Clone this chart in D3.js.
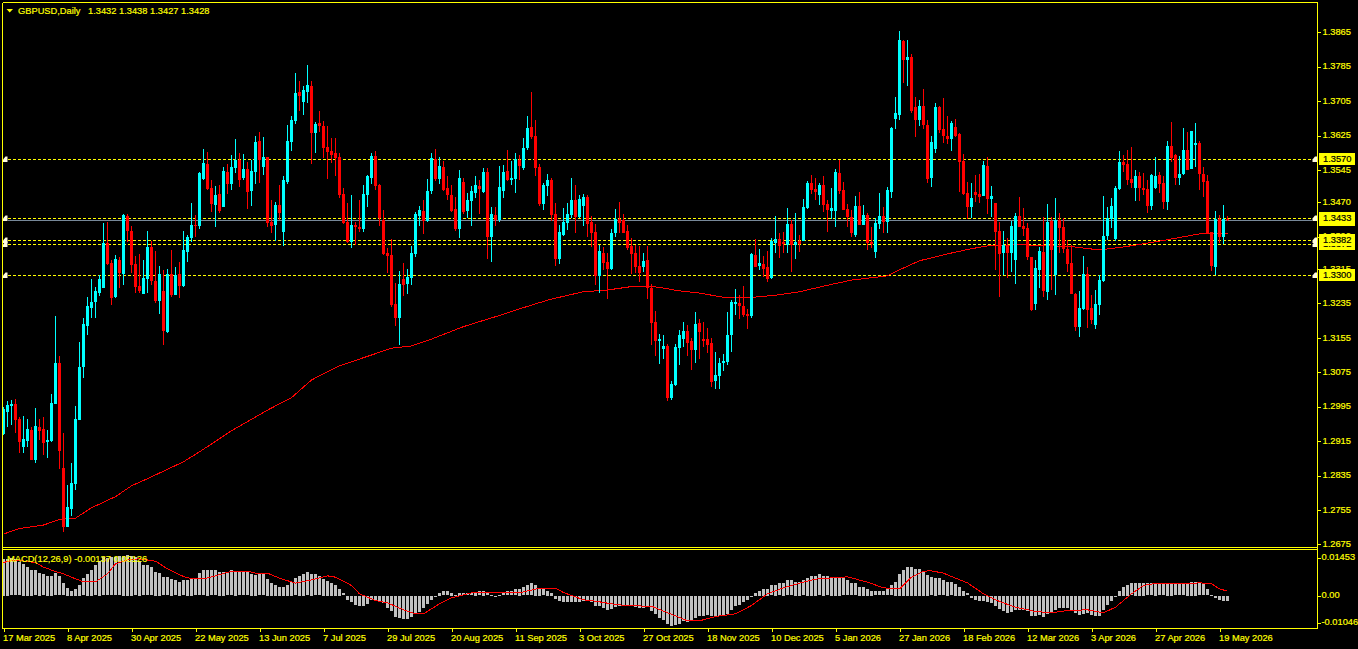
<!DOCTYPE html>
<html><head><meta charset="utf-8"><title>GBPUSD,Daily</title>
<script src="https://cdn.jsdelivr.net/npm/d3@7/dist/d3.min.js"></script>
<style>html,body{margin:0;padding:0;background:#000;overflow:hidden}svg{display:block}text{font-family:"Liberation Sans",Arial,sans-serif;font-size:9.3px;stroke-width:.2px}</style>
</head><body><svg id="c" width="1358" height="649"></svg>
<script>
// Prices in units of 0.0001
const highs=[12995,13009,13011,13013,12971,12973,12966,12948,12992,12966,
12971,12941,13025,13206,13113,12934,12813,12864,12997,13145,
13201,13250,13292,13273,13301,13422,13424,13336,13347,13343,
13443,13443,13415,13345,13350,13336,13403,13380,13357,13322,
13313,13315,13359,13320,13331,13403,13394,13468,13440,13540,
13594,13587,13522,13508,13510,13552,13559,13580,13617,13585,
13582,13564,13568,13624,13633,13622,13575,13475,13471,13510,
13531,13650,13670,13770,13752,13740,13789,13752,13656,13682,
13659,13647,13619,13619,13585,13503,13468,13487,13424,13475,
13510,13533,13585,13589,13513,13452,13364,13385,13282,13310,
13329,13315,13368,13447,13461,13475,13524,13585,13594,13575,
13566,13531,13510,13482,13545,13526,13492,13508,13531,13522,
13550,13550,13459,13459,13554,13557,13592,13566,13585,13580,
13619,13670,13726,13661,13559,13515,13536,13526,13468,13417,
13457,13468,13526,13510,13487,13489,13487,13438,13420,13371,
13366,13352,13408,13454,13471,13443,13417,13387,13371,13368,
13352,13368,13280,13217,13164,13162,13141,13055,13141,13173,
13192,13185,13155,13215,13199,13192,13178,13155,13122,13108,
13117,13215,13243,13269,13255,13276,13222,13352,13385,13361,
13345,13357,13387,13438,13399,13401,13457,13429,13445,13394,
13478,13519,13533,13526,13515,13531,13475,13503,13547,13568,
13517,13466,13452,13485,13494,13464,13445,13413,13433,13492,
13459,13506,13645,13715,13868,13847,13847,13815,13715,13708,
13733,13661,13624,13701,13694,13712,13670,13659,13664,13631,
13582,13517,13515,13533,13536,13566,13575,13508,13468,13424,
13403,13387,13427,13445,13482,13457,13422,13343,13336,13366,
13436,13466,13436,13480,13445,13433,13382,13371,13259,13264,
13345,13320,13255,13266,13301,13485,13459,13480,13508,13589,
13580,13592,13598,13545,13540,13538,13522,13536,13575,13540,
13531,13612,13657,13582,13578,13643,13633,13636,13654,13612,
13552,13533,13401,13450,13440,13464,13438];
const lows=[12929,12948,12952,12934,12888,12888,12902,12871,12864,12918,
12883,12876,12913,13002,12850,12704,12716,12741,12802,12964,
13062,13162,13201,13201,13252,13271,13324,13231,13248,13271,
13278,13378,13306,13259,13259,13257,13259,13278,13236,13210,
13138,13166,13250,13255,13248,13273,13331,13378,13389,13408,
13522,13499,13447,13413,13445,13459,13489,13499,13538,13506,
13522,13454,13461,13513,13515,13533,13413,13399,13380,13429,
13368,13513,13589,13652,13682,13673,13701,13559,13585,13633,
13573,13524,13561,13531,13480,13420,13375,13364,13371,13401,
13401,13459,13513,13499,13415,13347,13306,13227,13183,13138,
13252,13257,13278,13343,13415,13396,13424,13489,13519,13513,
13496,13475,13447,13403,13387,13443,13433,13415,13480,13443,
13492,13338,13331,13415,13424,13480,13519,13510,13492,13522,
13545,13592,13617,13531,13461,13452,13485,13427,13322,13327,
13392,13406,13433,13399,13433,13415,13389,13366,13278,13259,
13313,13245,13313,13389,13399,13399,13359,13303,13306,13285,
13308,13245,13138,13113,13094,13106,13008,13011,13043,13092,
13134,13113,13080,13097,13106,13134,13120,13041,13036,13036,
13078,13092,13122,13208,13199,13203,13176,13201,13320,13313,
13296,13285,13292,13352,13341,13352,13352,13308,13338,13354,
13380,13454,13489,13475,13464,13447,13401,13431,13413,13489,
13452,13413,13389,13389,13417,13417,13359,13364,13341,13408,
13399,13399,13480,13640,13661,13747,13740,13677,13622,13647,
13640,13515,13506,13585,13631,13608,13605,13589,13622,13494,
13487,13431,13433,13471,13468,13485,13443,13436,13313,13250,
13301,13294,13308,13280,13413,13392,13336,13217,13220,13271,
13250,13243,13266,13255,13352,13352,13308,13257,13171,13157,
13220,13178,13187,13176,13208,13285,13382,13410,13380,13499,
13540,13510,13503,13473,13473,13487,13445,13452,13501,13492,
13454,13452,13564,13510,13510,13533,13545,13547,13552,13499,
13482,13399,13310,13301,13375,13373,13427];
const opens=[12932,12983,12997,13002,12966,12902,12916,12941,12871,12948,
12943,12913,12916,13002,13097,12853,12716,12757,12816,12964,
13087,13183,13224,13238,13259,13271,13375,13329,13250,13336,
13303,13438,13403,13327,13275,13257,13292,13366,13287,13241,
13264,13169,13303,13255,13303,13275,13354,13387,13417,13415,
13524,13559,13503,13464,13489,13459,13540,13513,13550,13568,
13526,13547,13496,13540,13612,13552,13575,13424,13417,13464,
13401,13517,13610,13659,13726,13703,13726,13740,13631,13654,
13647,13598,13589,13585,13575,13489,13424,13378,13417,13413,
13408,13487,13526,13578,13510,13429,13352,13347,13234,13201,
13292,13280,13294,13350,13438,13450,13427,13496,13571,13524,
13552,13503,13487,13454,13408,13517,13450,13473,13492,13508,
13494,13540,13389,13440,13429,13496,13543,13522,13524,13568,
13550,13596,13645,13624,13552,13466,13508,13522,13443,13338,
13394,13422,13440,13475,13436,13461,13482,13424,13401,13299,
13352,13331,13315,13399,13431,13429,13403,13368,13352,13322,
13320,13336,13271,13192,13148,13129,13136,13015,13045,13131,
13152,13171,13148,13127,13190,13152,13152,13143,13055,13066,
13097,13099,13162,13234,13236,13229,13210,13206,13347,13322,
13327,13320,13294,13375,13385,13378,13371,13420,13371,13380,
13380,13457,13515,13501,13487,13510,13466,13450,13450,13538,
13499,13454,13436,13394,13461,13417,13440,13378,13354,13420,
13438,13424,13494,13663,13673,13845,13801,13808,13691,13661,
13694,13650,13526,13594,13691,13640,13624,13617,13645,13629,
13566,13492,13459,13494,13489,13485,13554,13478,13468,13403,
13352,13371,13352,13336,13438,13415,13410,13343,13234,13313,
13354,13262,13427,13301,13429,13413,13361,13329,13257,13180,
13222,13303,13224,13185,13231,13287,13392,13431,13385,13501,
13564,13559,13524,13503,13531,13503,13501,13461,13503,13533,
13515,13471,13601,13580,13526,13536,13592,13547,13603,13608,
13536,13519,13401,13320,13431,13389,13432];
const closes=[12990,12999,13002,12964,12913,12920,12943,12871,12950,12939,
12911,12918,13004,13097,12892,12716,12762,12818,12966,13087,
13187,13229,13238,13264,13292,13375,13327,13248,13338,13306,
13440,13403,13324,13273,13264,13294,13366,13287,13241,13303,
13171,13303,13255,13301,13275,13359,13389,13417,13415,13538,
13561,13501,13466,13487,13450,13543,13513,13552,13568,13522,
13547,13494,13543,13610,13568,13575,13422,13415,13464,13445,
13522,13612,13661,13724,13717,13731,13743,13631,13652,13647,
13596,13587,13580,13573,13487,13422,13378,13417,13413,13408,
13489,13531,13578,13508,13433,13350,13345,13231,13201,13280,
13278,13296,13352,13443,13452,13427,13496,13573,13524,13554,
13499,13487,13450,13408,13526,13447,13475,13496,13510,13501,
13540,13389,13443,13429,13506,13540,13522,13526,13571,13554,
13596,13643,13622,13550,13466,13510,13522,13440,13338,13401,
13424,13443,13475,13436,13478,13482,13420,13399,13299,13357,
13329,13315,13399,13431,13422,13399,13364,13350,13320,13306,
13334,13271,13190,13148,13152,13136,13015,13048,13134,13162,
13171,13143,13127,13187,13169,13148,13138,13052,13069,13097,
13101,13162,13238,13238,13229,13208,13206,13350,13320,13329,
13315,13292,13380,13385,13368,13373,13420,13371,13378,13373,
13459,13515,13499,13494,13510,13464,13452,13457,13540,13496,
13452,13436,13399,13461,13417,13440,13375,13373,13422,13438,
13424,13499,13643,13677,13847,13801,13808,13682,13661,13694,
13650,13524,13610,13691,13638,13624,13617,13654,13624,13564,
13489,13459,13480,13487,13482,13557,13478,13485,13401,13350,
13371,13352,13415,13438,13413,13408,13343,13220,13317,13357,
13264,13424,13359,13429,13410,13361,13327,13257,13180,13224,
13303,13220,13196,13234,13289,13392,13433,13461,13503,13564,
13557,13522,13515,13531,13503,13499,13461,13533,13531,13513,
13471,13601,13573,13526,13536,13592,13545,13636,13608,13536,
13517,13399,13322,13431,13389,13431,13428];
// Moving average samples (bar index, price x 10000)
const maBars=[0,4,10,14,18,22,28,32,37,45,49,57,66,72,77,84,92,97,102,107,115,123,132,137,145,151,157,162,164,169,174,180,186,193,199,206,212,221,224,229,236,242,247,255,267,274,280,288,297,300,306];
const maValues=[12699,12712,12720,12733,12736,12760,12786,12811,12832,12867,12890,12939,12987,13016,13057,13090,13115,13131,13136,13152,13181,13204,13231,13245,13262,13266,13274,13274,13272,13264,13259,13249,13248,13254,13262,13277,13289,13299,13313,13334,13350,13362,13370,13371,13367,13359,13366,13378,13393,13398,13398];
// MACD in units of 0.00001
const macdMain=[1410,1410,1436,1385,1282,1218,1115,1000,962,872,
808,769,769,859,731,462,295,192,269,423,
654,833,1000,1154,1346,1474,1436,1474,1474,1513,
1538,1564,1538,1474,1346,1154,1154,1090,923,872,
705,705,641,577,538,577,615,641,667,859,
962,1000,962,962,923,923,897,962,923,936,
936,936,846,795,821,808,641,500,423,346,
346,423,538,654,769,846,885,846,808,731,
641,564,500,423,269,77,-154,-231,-333,-385,
-385,-308,-154,-192,-231,-269,-449,-577,-795,-846,
-872,-885,-808,-667,-615,-462,-308,-154,-38,115,
154,154,115,38,115,77,77,77,115,154,
192,77,38,-38,38,77,154,154,231,269,
308,385,462,423,269,231,192,115,-115,-192,
-231,-231,-231,-231,-231,-192,-192,-231,-385,-385,
-462,-526,-513,-423,-385,-359,-359,-385,-423,-462,
-462,-423,-577,-692,-846,-923,-1077,-1154,-1115,-1077,
-962,-1000,-923,-846,-769,-769,-731,-769,-808,-769,
-731,-692,-538,-385,-346,-231,-154,-38,115,192,
269,269,385,423,462,500,577,577,538,538,
577,692,769,769,808,769,731,692,692,692,
654,577,462,462,346,346,269,192,154,154,
154,231,385,538,846,1000,1115,1115,1038,1026,
923,795,705,692,654,577,538,513,449,346,
192,77,-77,-154,-192,-192,-231,-269,-385,-500,
-577,-654,-615,-538,-538,-538,-577,-769,-769,-731,
-808,-692,-654,-538,-462,-462,-462,-538,-654,-731,
-692,-654,-731,-769,-769,-538,-346,-192,-13,192,
346,423,462,500,500,500,462,462,500,462,
462,500,500,462,462,462,500,538,538,462,
462,231,38,-77,-154,-192,-192];
const signalBars=[0,2,4,8,10,13,15,18,20,23,26,28,31,34,38,41,45,47,50,53,57,61,63,66,69,73,77,81,83,87,89,93,96,100,103,105,109,112,117,123,129,134,138,140,145,148,152,156,162,165,168,171,174,178,183,187,191,195,199,203,207,211,216,220,224,227,230,232,235,238,241,245,249,253,258,262,266,271,275,278,282,285,288,295,299,302,304,306];
const signalValues=[1269,1346,1346,1269,1090,923,833,641,526,526,833,1218,1372,1410,1320,1026,731,641,641,756,936,936,859,859,667,474,603,756,705,385,64,-192,-282,-551,-705,-705,-321,-90,103,103,103,282,282,115,-167,-218,-321,-397,-410,-603,-782,-974,-974,-808,-705,-385,64,295,474,628,679,718,513,295,256,705,936,949,859,667,487,64,-231,-449,-615,-667,-577,-551,-667,-449,64,385,462,449,487,449,256,167];
const priceTicks=[1.3865,1.3785,1.3705,1.3625,1.3545,1.3470,1.3390,1.3315,1.3235,1.3155,1.3075,1.2995,1.2915,1.2835,1.2755,1.2675];
const levels=[1.3570,1.3433,1.3382,1.3372,1.3300];
const bid=1.3428;
const dateBars=[0,16,32,48,64,80,96,112,128,144,160,176,192,208,224,240,256,272,288,304];
const dateLabels=["17 Mar 2025","8 Apr 2025","30 Apr 2025","22 May 2025","13 Jun 2025","7 Jul 2025","29 Jul 2025","20 Aug 2025","11 Sep 2025","3 Oct 2025","27 Oct 2025","18 Nov 2025","10 Dec 2025","5 Jan 2026","27 Jan 2026","18 Feb 2026","12 Mar 2026","3 Apr 2026","27 Apr 2026","19 May 2026"];
const macdTicks=[0.01453,0,-0.01046];
const macdTickLabels=["0.01453","0.00","-0.01046"];
const headerSymbol="GBPUSD,Daily";
const headerQuote="1.3432 1.3438 1.3427 1.3428";
const macdTitle="MACD(12,26,9) -0.00137 0.00126";

const YEL="#ffff00",RED="#ff0000",CY="#00ffff";
const svg=d3.select("#c");
const x=d3.scaleLinear().domain([0,306]).range([3.5,1227.5]);
const y=d3.scaleLinear().domain([1.2675,1.3865]).range([544.4,32.2]);
const my=d3.scaleLinear().domain([-0.01,0.01]).range([621.5,569.5]);
const py=v=>Math.round(y(v/10000));
const idx=d3.range(closes.length);
const crisp=g=>g.attr("shape-rendering","crispEdges");

// levels and bid line
const back=svg.append("g").call(crisp);
back.append("line").attr("x1",8).attr("x2",1312).attr("y1",Math.floor(y(bid))+.5).attr("y2",Math.floor(y(bid))+.5).attr("stroke","#778899");
back.selectAll(".lv").data(levels).join("line").attr("class","lv").attr("x1",8).attr("x2",1312)
 .attr("y1",d=>Math.floor(y(d))+.5).attr("y2",d=>Math.floor(y(d))+.5).attr("stroke",YEL).attr("stroke-dasharray","3,2");

// moving average
const ln=d3.line().x(d=>d[0]).y(d=>d[1]);
svg.append("path").attr("d",ln(maBars.map((b,i)=>[x(b),y(maValues[i]/10000)]))).attr("fill","none").attr("stroke",RED).attr("stroke-width",1).call(crisp);

// candles
const col=i=>closes[i]>=opens[i]?CY:RED;
const cg=svg.append("g").call(crisp);
cg.selectAll(".w").data(idx).join("rect").attr("class","w").attr("x",i=>x(i)-.5).attr("width",1)
 .attr("y",i=>py(highs[i])).attr("height",i=>Math.max(1,py(lows[i])-py(highs[i]))).attr("fill",col);
cg.selectAll(".b").data(idx).join("rect").attr("class","b").attr("x",i=>x(i)-1.5).attr("width",3)
 .attr("y",i=>py(Math.max(opens[i],closes[i]))).attr("height",i=>Math.max(1,py(Math.min(opens[i],closes[i]))-py(Math.max(opens[i],closes[i])))).attr("fill",col);

// MACD
const mg=svg.append("g").call(crisp);
mg.selectAll("rect").data(idx).join("rect").attr("x",i=>x(i)-1.5).attr("width",3)
 .attr("y",i=>Math.round(Math.min(my(macdMain[i]/1e5),my(0))))
 .attr("height",i=>Math.max(1,Math.round(Math.abs(my(macdMain[i]/1e5)-my(0))))).attr("fill","#c0c0c0");
svg.append("path").attr("d",ln(signalBars.map((b,i)=>[x(b),my(signalValues[i]/1e5)]))).attr("fill","none").attr("stroke",RED).call(crisp);

// axes
const styleAxis=g=>{g.select(".domain").remove();g.selectAll("line").attr("stroke",YEL).call(crisp);g.selectAll("text").attr("fill",YEL).attr("stroke",YEL).attr("font-family",null).attr("font-size",null);};
svg.append("g").attr("transform","translate(1317.5,0)").call(d3.axisRight(y).tickValues(priceTicks).tickSize(3).tickPadding(2).tickFormat(d3.format(".4f"))).attr("font-family",null).attr("font-size",null).call(styleAxis).selectAll("text").attr("dy","2.2");
svg.append("g").attr("transform","translate(1317.5,0)").call(d3.axisRight(my).tickValues(macdTicks).tickSize(3).tickPadding(1).tickFormat((d,i)=>macdTickLabels[i])).attr("font-family",null).attr("font-size",null).call(styleAxis).selectAll("text").attr("dy","2.2");
svg.append("g").attr("transform","translate(0,628.5)").call(d3.axisBottom(x).tickValues(dateBars).tickSize(3).tickFormat((d,i)=>dateLabels[i])).attr("font-family",null).attr("font-size",null).call(styleAxis)
 .selectAll("text").attr("text-anchor","start").attr("x",-1).attr("y",9).attr("dy","3.5");

// frame
const fr=svg.append("g").call(crisp).attr("stroke",YEL);
[[2.5,2.5,1317.5,2.5],[2.5,547.5,1317.5,547.5],[2.5,549.5,1317.5,549.5],[2.5,628.5,1317.5,628.5],[2.5,2.5,2.5,628.5],[1317.5,2.5,1317.5,628.5]]
 .forEach(s=>fr.append("line").attr("x1",s[0]).attr("y1",s[1]).attr("x2",s[2]).attr("y2",s[3]));

// price boxes
const boxes=[bid,1.3570,1.3372,1.3382,1.3433,1.3300];
const bg=svg.append("g");
boxes.forEach(v=>{const t=Math.floor(y(v))-6;
 bg.append("rect").attr("x",1319).attr("y",t).attr("width",36).attr("height",11.5).attr("fill",YEL).call(crisp);
 bg.append("text").attr("x",1323).attr("y",t+9.4).attr("fill","#000").attr("stroke","#000").text(v.toFixed(4));});

// arrow markers
const am=svg.append("g").attr("fill","#fffbe0");
levels.forEach(v=>{const c=Math.floor(y(v))+.5;
 [3,1312.5].forEach(a=>am.append("path").attr("d",`M${a},${c}L${a+2.5},${c-3}H${a+4.5}V${c+2.5}H${a}Z`));});

// headers
svg.append("path").attr("d","M6.5,9H13L9.7,12.5Z").attr("fill",YEL);
svg.append("text").attr("x",18).attr("y",14).attr("fill",YEL).attr("stroke",YEL).text(headerSymbol);
svg.append("text").attr("x",88).attr("y",14).attr("fill",YEL).attr("stroke",YEL).text(headerQuote);
svg.append("text").attr("x",7).attr("y",562).attr("fill",YEL).attr("stroke",YEL).text(macdTitle);
</script></body></html>
